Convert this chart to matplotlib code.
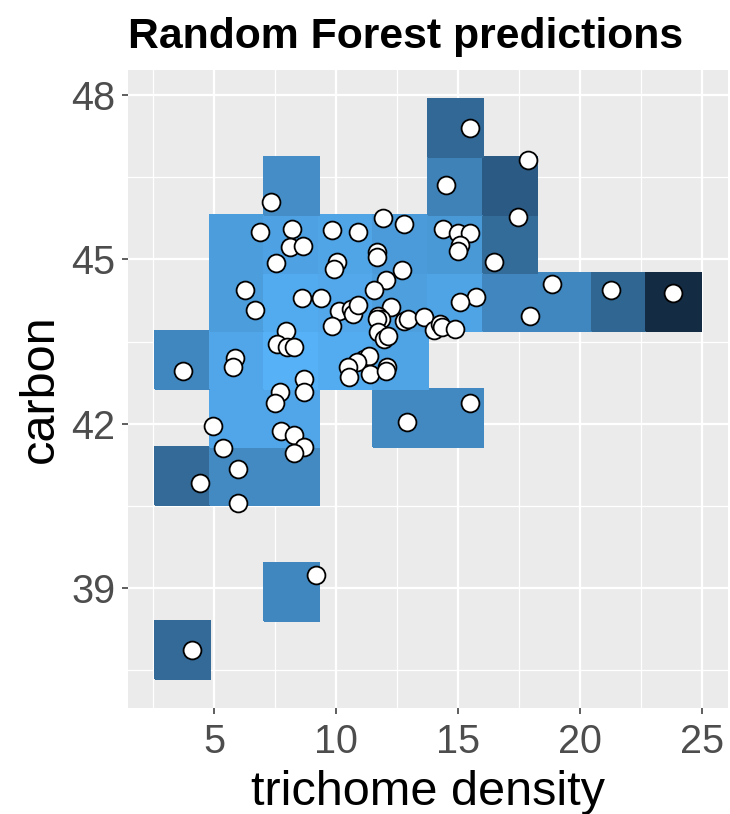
import matplotlib.pyplot as plt
import numpy as np
from matplotlib.colors import LinearSegmentedColormap

# observed samples
trichome_density = [
    7.32, 6.86, 8.17, 8.09, 8.62, 7.55, 9.81, 10.91, 11.90, 12.76,
    11.69, 11.69, 10.05, 9.89, 12.68, 12.02, 6.28, 11.53, 6.69, 8.58,
    9.36, 10.10, 10.59, 10.67, 10.91, 9.81, 12.23, 11.73, 11.82, 11.69,
    12.76, 12.92, 13.58, 13.99, 14.27, 14.35, 14.88, 11.73, 11.94, 12.14,
    11.12, 11.33, 10.87, 10.47, 10.51, 11.40, 12.10, 12.02, 7.92, 7.59,
    8.00, 8.25, 5.83, 5.75, 3.70, 8.66, 8.66, 7.68, 7.47, 12.88,
    4.93, 7.72, 8.25, 8.66, 8.25, 5.34, 5.96, 4.40, 5.96, 9.19,
    4.07, 15.50, 17.84, 14.48, 17.43, 14.36, 15.01, 15.50, 15.09, 15.01,
    16.45, 18.86, 21.24, 23.82, 15.71, 15.09, 17.92, 15.50,
]
carbon = [
    46.05, 45.51, 45.56, 45.22, 45.25, 44.93, 45.53, 45.51, 45.76, 45.64,
    45.13, 45.04, 44.96, 44.82, 44.80, 44.62, 44.45, 44.45, 44.07, 44.29,
    44.29, 44.05, 44.09, 44.00, 44.16, 43.78, 44.13, 43.96, 43.91, 43.91,
    43.87, 43.91, 43.95, 43.71, 43.82, 43.76, 43.73, 43.67, 43.55, 43.60,
    43.18, 43.24, 43.13, 43.04, 42.85, 42.91, 43.04, 42.96, 43.69, 43.45,
    43.40, 43.40, 43.20, 43.04, 42.96, 42.82, 42.58, 42.58, 42.38, 42.04,
    41.96, 41.87, 41.80, 41.58, 41.47, 41.55, 41.18, 40.91, 40.56, 39.24,
    37.87, 47.40, 46.82, 46.36, 45.78, 45.55, 45.49, 45.49, 45.27, 45.16,
    44.96, 44.56, 44.45, 44.38, 44.31, 44.22, 43.96, 42.38,
]

# binned forest prediction (relative scale), rows bottom -> top, nan = empty bin
nan = np.nan
pred_grid = np.array([
    [0.47, nan, nan, nan, nan, nan, nan, nan, nan, nan],
    [nan, nan, 0.69, nan, nan, nan, nan, nan, nan, nan],
    [nan, nan, nan, nan, nan, nan, nan, nan, nan, nan],
    [0.47, 0.71, 0.71, nan, nan, nan, nan, nan, nan, nan],
    [nan, 0.92, 0.92, nan, 0.70, 0.70, nan, nan, nan, nan],
    [0.69, 0.92, 1.00, 0.96, 0.90, nan, nan, nan, nan, nan],
    [nan, 0.85, 0.95, 0.93, 0.86, 0.90, 0.68, 0.69, 0.44, 0.00],
    [nan, 0.85, 0.88, 0.91, 0.83, 0.82, 0.48, nan, nan, nan],
    [nan, nan, 0.73, nan, nan, 0.65, 0.36, nan, nan, nan],
    [nan, nan, nan, nan, nan, 0.46, nan, nan, nan, nan],
])

x_ticks = [5, 10, 15, 20, 25]
y_ticks = [39, 42, 45, 48]

FONT = "Liberation Sans"
n_bins = pred_grid.shape[0]

x = np.asarray(trichome_density)
y = np.asarray(carbon)

# bin centres run from the smallest to the largest observation
x_centres = np.linspace(x.min(), x.max(), n_bins)
y_centres = np.linspace(y.min(), y.max(), n_bins)
dx = x_centres[1] - x_centres[0]
dy = y_centres[1] - y_centres[0]
x_edges = np.append(x_centres - dx / 2, x_centres[-1] + dx / 2)
y_edges = np.append(y_centres - dy / 2, y_centres[-1] + dy / 2)

cmap = LinearSegmentedColormap.from_list("gg_blues", ["#132B43", "#56B1F7"])

fig = plt.figure(figsize=(7.3, 8.14), dpi=100)
ax = fig.add_axes([128 / 730, 1 - 708 / 814, 600 / 730, 638 / 814])
ax.set_facecolor("#EBEBEB")

ax.pcolormesh(
    x_edges, y_edges, np.ma.masked_invalid(pred_grid),
    cmap=cmap, vmin=0, vmax=1, shading="flat",
    edgecolors="face", linewidth=0.3, zorder=2,
)
ax.scatter(x, y, s=165, facecolor="white", edgecolor="black",
           linewidth=1.3, zorder=3)

# ggplot-like 5% expansion around the tiles
xr = x_edges[-1] - x_edges[0]
yr = y_edges[-1] - y_edges[0]
ax.set_xlim(x_edges[0] - 0.05 * xr, x_edges[-1] + 0.05 * xr)
ax.set_ylim(y_edges[0] - 0.05 * yr, y_edges[-1] + 0.05 * yr)

ax.set_xticks(x_ticks)
ax.set_yticks(y_ticks)
ax.set_xticks([t - 2.5 for t in x_ticks], minor=True)
ax.set_yticks([t - 1.5 for t in y_ticks], minor=True)
ax.grid(which="major", color="white", linewidth=1.6, zorder=1)
ax.grid(which="minor", color="white", linewidth=0.9, zorder=1)
ax.set_axisbelow(True)
for side in ax.spines.values():
    side.set_visible(False)

ax.tick_params(which="major", length=4, width=1.1, color="#333333",
               labelsize=28.5, labelcolor="#4D4D4D")
ax.tick_params(axis="x", which="major", pad=7)
ax.tick_params(axis="y", which="major", pad=5)
ax.tick_params(which="minor", length=0)
for lab in ax.get_xticklabels() + ax.get_yticklabels():
    lab.set_fontfamily(FONT)

ax.set_xlabel("trichome density", fontsize=35, family=FONT, labelpad=6)
ax.set_ylabel("carbon", fontsize=35, family=FONT, labelpad=6)
ax.set_title("Random Forest predictions", loc="left", fontsize=30.8,
             fontweight="bold", family=FONT, pad=16)

fig.savefig("out.png", dpi=100)
